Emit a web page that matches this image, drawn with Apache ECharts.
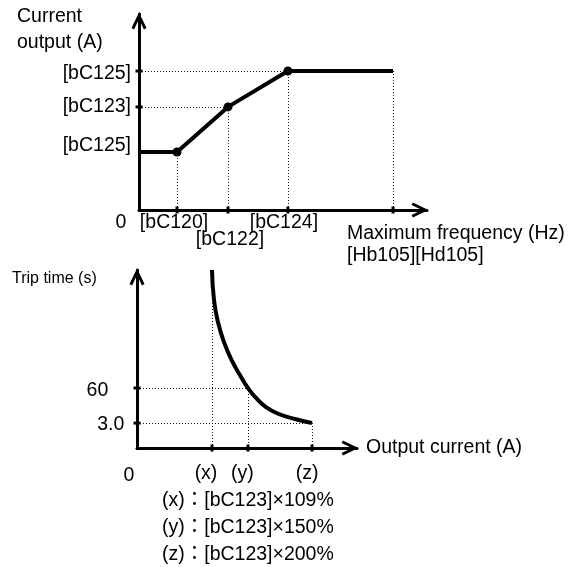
<!DOCTYPE html>
<html><head><meta charset="utf-8">
<script src="https://cdn.jsdelivr.net/npm/echarts@6/dist/echarts.min.js"></script>
<style>html,body{margin:0;padding:0;background:#fff}#c{width:573px;height:567px}</style>
</head><body><div id="c"></div>
<script>
// ---------- Top diagram: current output vs. frequency (relative scale 0–100) ----------
const topFreq = [0, 13.2, 30.9, 51.7, 88.2];
const topCurrent = [29.6, 29.6, 52.6, 70.9, 70.9];
const topDotIndex = [1, 2, 3];
const topXTickValues = [13.2, 30.9, 51.7, 88.2];
const topXTickLabels = ['[bC120]', '[bC122]', '[bC124]', ''];
const topYTickValues = [70.9, 52.6, 29.6];
const topYTickLabels = ['[bC125]', '[bC123]', '[bC125]'];
const topYTickMarked = [true, true, false];
const topGuideV = [1, 2, 3, 4];
const topGuideH = [2, 3];

// ---------- Bottom diagram: trip time vs. output current (relative scale 0–100) ----------
const tripCurrent = [34.09, 35.0, 36.8, 39.5, 43.2, 47.3, 50.45, 54.1, 58.6, 64.5, 71.8, 79.55];
const tripTime = [100, 83.1, 70.8, 59.6, 48.9, 39.9, 33.7, 28.1, 23.0, 19.1, 16.3, 14.0];
const tripXTickValues = [34.09, 50.45, 79.55];
const tripXTickLabels = ['(x)', '(y)', '(z)'];
const tripYTickValues = [33.7, 14.0];
const tripYTickLabels = ['60', '3.0'];
const tripGuideV = [0, 6, 11];
const tripGuideH = [6, 11];
const notes = ['(x)：[bC123]×109%', '(y)：[bC123]×150%', '(z)：[bC123]×200%'];

// ---------- styles ----------
const FONT = '"Liberation Sans", Arial, "Noto Sans CJK JP", sans-serif';
const FS = 19.5;
const INK = '#000';
const ARROW = 'path://M7.5,0L15,15.5L12.4,16.8L7.5,6.5L2.6,16.8L0,15.5Z';

function axis(idx) {
  return {
    type: 'value', gridIndex: idx, min: 0, max: 100,
    splitLine: { show: false }, axisTick: { show: false }, axisLabel: { show: false },
    axisLine: { show: true, onZero: false, symbol: ['none', ARROW], symbolSize: [15, 17],
      symbolOffset: [0, -7], lineStyle: { color: INK, width: 3 } }
  };
}
function guides(xs, ys, vIdx, hIdx) {
  const d = [];
  vIdx.forEach(i => d.push([{ coord: [xs[i], ys[i]] }, { coord: [xs[i], 0] }]));
  hIdx.forEach(i => d.push([{ coord: [0, ys[i]] }, { coord: [xs[i], ys[i]] }]));
  return d;
}
function lbl(text, dx, dy, align) {
  return { show: !!text, formatter: text, position: 'inside', offset: [dx, dy], align: align || 'center',
    verticalAlign: 'middle', color: INK, opacity: 1, fontFamily: FONT, fontSize: FS };
}

const topXOffsets = [[-3, 13], [2, 30], [-4, 13], [0, 13]];
const topYOffsets = [[-8, 2.5], [-8, 0], [-8, -6]];
const tripXOffsets = [[-6, 26], [-5.5, 26], [-5, 26]];
const tripYOffsets = [[-28.7, 2.7], [-12.7, 2]];

const topTicks = [];
topXTickValues.forEach((v, i) => topTicks.push({ value: [v, 0], symbol: 'rect', symbolSize: [3, 7],
  label: lbl(topXTickLabels[i], topXOffsets[i][0], topXOffsets[i][1]) }));
topYTickValues.forEach((v, i) => topTicks.push({ value: [0, v], symbol: 'rect',
  symbolSize: topYTickMarked[i] ? [7, 3] : 0,
  label: lbl(topYTickLabels[i], topYOffsets[i][0], topYOffsets[i][1], 'right') }));
topTicks.push({ value: [0, 0], symbolSize: 0, label: lbl('0', -18, 13) });

const tripTicks = [];
tripXTickValues.forEach((v, i) => tripTicks.push({ value: [v, 0], symbol: 'rect', symbolSize: [3, 7],
  label: lbl(tripXTickLabels[i], tripXOffsets[i][0], tripXOffsets[i][1]) }));
tripYTickValues.forEach((v, i) => tripTicks.push({ value: [0, v], symbol: 'rect', symbolSize: [7, 3],
  label: lbl(tripYTickLabels[i], tripYOffsets[i][0], tripYOffsets[i][1], 'right') }));
tripTicks.push({ value: [0, 0], symbolSize: 0, label: lbl('0', -8, 28) });

const guideStyle = { color: '#111', width: 1, type: [1, 2] };
const markLineBase = { silent: true, symbol: ['none', 'none'], label: { show: false }, lineStyle: guideStyle, animation: false };
const solidItem = { color: INK, opacity: 1 };

const chart = echarts.init(document.getElementById('c'), null, { renderer: 'canvas' });
chart.setOption({
  animation: false,
  backgroundColor: '#fff',
  textStyle: { fontFamily: FONT },
  grid: [
    { left: 139, top: 14, width: 288, height: 196, containLabel: false, outerBoundsMode: 'none' },
    { left: 137, top: 270, width: 220, height: 178, containLabel: false, outerBoundsMode: 'none' }
  ],
  xAxis: [axis(0), Object.assign(axis(1), {
    name: 'Output current (A)', nameLocation: 'end', nameGap: 9,
    nameTextStyle: { color: INK, fontFamily: FONT, fontSize: FS, padding: [0, 0, 6, 0] }
  })],
  yAxis: [axis(0), axis(1)],
  graphic: [
    { type: 'text', left: 17, top: 4, style: { text: 'Current\noutput (A)', fill: INK, font: FS + 'px ' + FONT, lineHeight: 26 } },
    { type: 'text', left: 347, top: 222, style: { text: 'Maximum frequency (Hz)\n[Hb105][Hd105]', fill: INK, font: FS + 'px ' + FONT, lineHeight: 22.5 } },
    { type: 'text', left: 12, top: 269, style: { text: 'Trip time (s)', fill: INK, font: '16px ' + FONT, lineHeight: 20 } },
    { type: 'text', left: 162, top: 487.5, style: { text: notes.join('\n'), fill: INK, font: FS + 'px ' + FONT, lineHeight: 27 } }
  ],
  series: [
    { type: 'line', xAxisIndex: 0, yAxisIndex: 0, data: topFreq.map((x, i) => [x, topCurrent[i]]),
      symbol: 'none', lineStyle: { color: INK, width: 4 }, z: 3,
      markLine: Object.assign({ data: guides(topFreq, topCurrent, topGuideV, topGuideH) }, markLineBase) },
    { type: 'scatter', xAxisIndex: 0, yAxisIndex: 0, data: topDotIndex.map(i => [topFreq[i], topCurrent[i]]),
      symbol: 'circle', symbolSize: 9, itemStyle: solidItem, z: 4 },
    { type: 'scatter', xAxisIndex: 0, yAxisIndex: 0, data: topTicks, itemStyle: solidItem, z: 5 },

    { type: 'line', xAxisIndex: 1, yAxisIndex: 1, data: tripCurrent.map((x, i) => [x, tripTime[i]]),
      symbol: 'none', smooth: 0.5, lineStyle: { color: INK, width: 4 }, z: 3,
      markLine: Object.assign({ data: guides(tripCurrent, tripTime, tripGuideV, tripGuideH) }, markLineBase) },
    { type: 'scatter', xAxisIndex: 1, yAxisIndex: 1, data: tripTicks, itemStyle: solidItem, z: 5 }
  ]
});
</script></body></html>
